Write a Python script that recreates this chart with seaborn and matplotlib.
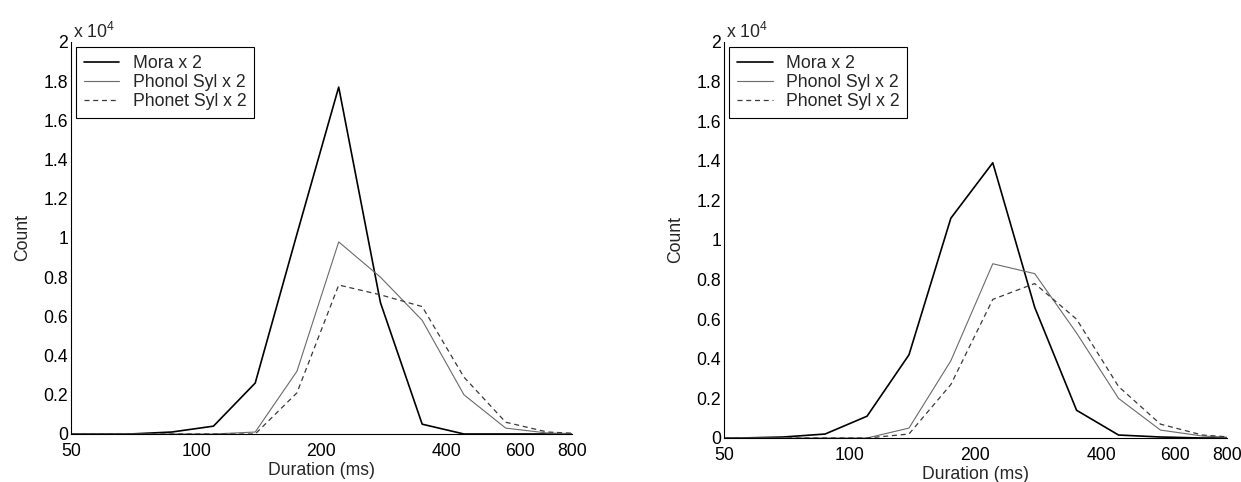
import matplotlib
matplotlib.use("Agg")
import matplotlib.pyplot as plt
import seaborn as sns
import numpy as np
from matplotlib.ticker import FixedLocator, FixedFormatter, FuncFormatter, NullFormatter

# bin centres (ms), log spaced
dur = [43.7, 55, 69.3, 87.3, 110, 138.6, 174.6, 220, 277.2, 349.2, 440, 554.4, 698.5, 880]

# left panel counts
mora_a = [0, 0, 0, 100, 400, 2600, 10200, 17700, 6700, 500, 0, 0, 0, 0]
phonol_a = [0, 0, 0, 0, 0, 100, 3200, 9800, 8000, 5800, 2000, 300, 50, 0]
phonet_a = [0, 0, 0, 0, 0, 0, 2100, 7600, 7100, 6500, 2900, 600, 100, 0]

# right panel counts
mora_b = [0, 0, 50, 200, 1100, 4200, 11100, 13900, 6600, 1400, 150, 50, 0, 0]
phonol_b = [0, 0, 0, 0, 0, 500, 3900, 8800, 8300, 5300, 2000, 400, 100, 0]
phonet_b = [0, 0, 0, 0, 0, 200, 2700, 7000, 7800, 6000, 2600, 700, 150, 0]

labels = ["Mora x 2", "Phonol Syl x 2", "Phonet Syl x 2"]
xticks = [50, 100, 200, 400, 600, 800]
xminor = [300, 500, 700]
yticks = list(np.arange(0, 20001, 2000))

FS = 12.7

sns.set_style("white")
plt.rcParams["font.family"] = ["Liberation Sans", "DejaVu Sans"]
plt.rcParams["mathtext.fontset"] = "custom"
plt.rcParams["mathtext.rm"] = "Liberation Sans"
plt.rcParams["font.size"] = FS


def draw_panel(ax, mora, phonol, phonet):
    sns.lineplot(x=dur, y=mora, ax=ax, color="black", lw=1.2, label=labels[0])
    sns.lineplot(x=dur, y=phonol, ax=ax, color="#6a6a6a", lw=0.8, label=labels[1])
    sns.lineplot(x=dur, y=phonet, ax=ax, color="#3a3a3a", lw=0.9,
                 linestyle=(0, (4, 3)), label=labels[2])

    ax.set_xscale("log")
    ax.set_xlim(50, 800)
    ax.set_ylim(0, 20000)
    ax.xaxis.set_major_locator(FixedLocator(xticks))
    ax.xaxis.set_major_formatter(FixedFormatter([str(t) for t in xticks]))
    ax.xaxis.set_minor_locator(FixedLocator(xminor))
    ax.xaxis.set_minor_formatter(NullFormatter())
    ax.yaxis.set_major_locator(FixedLocator(yticks))
    ax.yaxis.set_major_formatter(FuncFormatter(lambda v, p: f"{v / 1e4:g}"))
    ax.tick_params(axis="both", which="both", direction="in", length=3,
                   width=0.8, color="black", labelsize=FS, labelcolor="black")
    ax.tick_params(axis="x", pad=6.5)
    ax.tick_params(axis="y", pad=2)

    for s in ["top", "right"]:
        ax.spines[s].set_visible(False)
    for s in ["left", "bottom"]:
        ax.spines[s].set_color("black")
        ax.spines[s].set_linewidth(0.8)

    ax.set_xlabel("Duration (ms)", fontsize=FS, labelpad=1.5)
    ax.set_ylabel("Count", fontsize=FS, labelpad=9)
    ax.text(0.004, 1.0, r"x 10$^{4}$", transform=ax.transAxes,
            ha="left", va="bottom", fontsize=FS)

    leg = ax.legend(loc="upper left", fancybox=False, framealpha=1,
                    edgecolor="black", borderaxespad=0.3, handlelength=2.0,
                    handletextpad=0.75, labelspacing=0.1, borderpad=0.45,
                    fontsize=FS)
    leg.get_frame().set_linewidth(0.8)


fig = plt.figure(figsize=(12.41, 4.82), dpi=100)
ax1 = fig.add_axes([0.0572, 0.0996, 0.4037, 0.8133])
ax2 = fig.add_axes([0.5834, 0.0913, 0.4053, 0.8216])

draw_panel(ax1, mora_a, phonol_a, phonet_a)
draw_panel(ax2, mora_b, phonol_b, phonet_b)

fig.savefig("out.png", dpi=100)
